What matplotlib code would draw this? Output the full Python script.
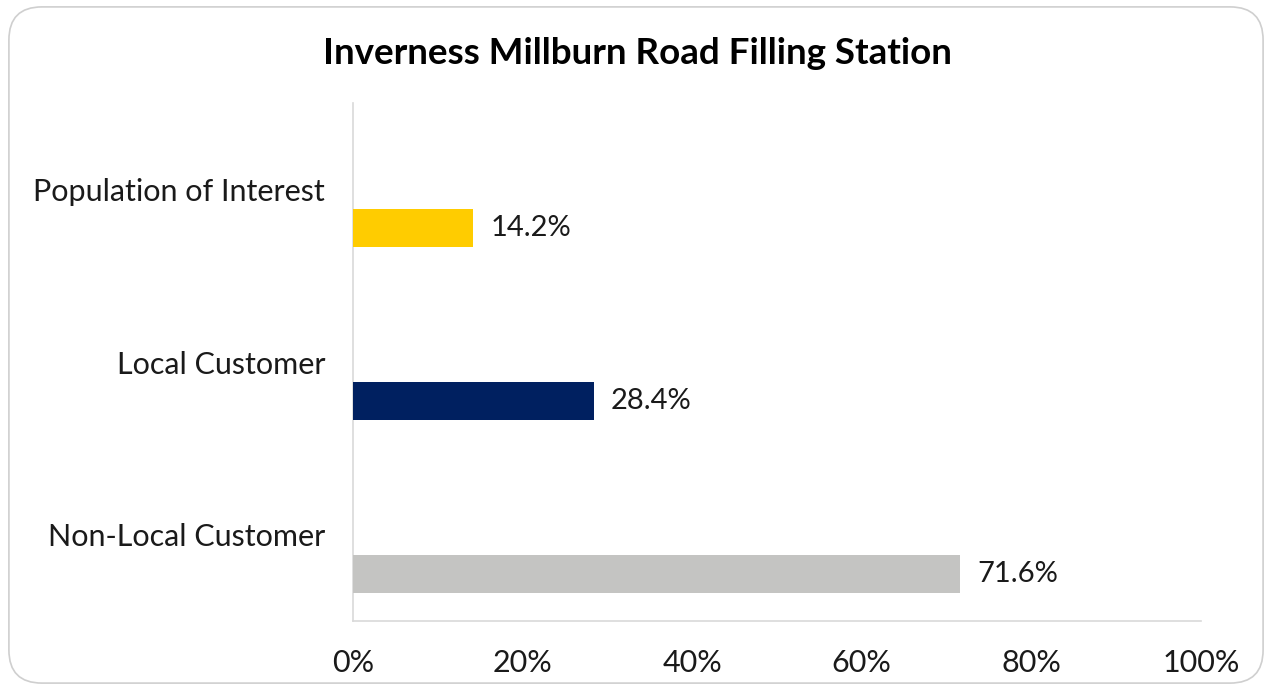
import matplotlib
matplotlib.use("Agg")
import matplotlib.pyplot as plt
from matplotlib.patches import FancyBboxPatch
from matplotlib.ticker import PercentFormatter

categories = ["Population of Interest", "Local Customer", "Non-Local Customer"]
shares = [14.2, 28.4, 71.6]
bar_colors = ["#FFCC00", "#002060", "#C4C4C2"]
x_ticks = [0, 20, 40, 60, 80, 100]

plt.rcParams['font.family'] = ['Lato', 'DejaVu Sans']

fig = plt.figure(figsize=(12.72, 6.9), dpi=100)
ax = fig.add_axes([0.2775, 0.1, 0.6667, 0.7507])

# rounded frame round the whole chart
frame = FancyBboxPatch((0.007, 0.01), 0.986, 0.98,
                       boxstyle="round,pad=0,rounding_size=0.026",
                       transform=fig.transFigure, facecolor="white",
                       edgecolor="#CFCFCF", linewidth=1.2, zorder=-10,
                       mutation_aspect=1272 / 690)
fig.patches.append(frame)

pos = list(range(len(categories)))
bar_h = 0.22
offset = 0.225
bars = ax.barh([p + offset for p in pos], shares, height=bar_h,
               color=bar_colors, zorder=3)

for b, v in zip(bars, shares):
    ax.text(v + 2.0, b.get_y() + b.get_height() / 2, f"{v:.1f}%",
            va="center", ha="left", fontsize=21, color="#1a1a1a")

ax.set_yticks(pos)
ax.set_yticklabels(categories, fontsize=22, color="#1a1a1a")
ax.set_ylim(2.5, -0.5)
ax.set_xlim(0, 100)
ax.set_xticks(x_ticks)
ax.xaxis.set_major_formatter(PercentFormatter(decimals=0))
ax.tick_params(axis="x", length=0, pad=20, labelsize=22, labelcolor="#1a1a1a")
ax.tick_params(axis="y", length=0, pad=20)

for side in ["top", "right"]:
    ax.spines[side].set_visible(False)
for side in ["left", "bottom"]:
    ax.spines[side].set_color("#D9D9D9")
    ax.spines[side].set_linewidth(1.2)

fig.text(0.5008, 0.922, "Inverness Millburn Road Filling Station",
         ha="center", va="center", fontsize=26.5, fontweight="bold")

fig.savefig("out.png", dpi=100)
